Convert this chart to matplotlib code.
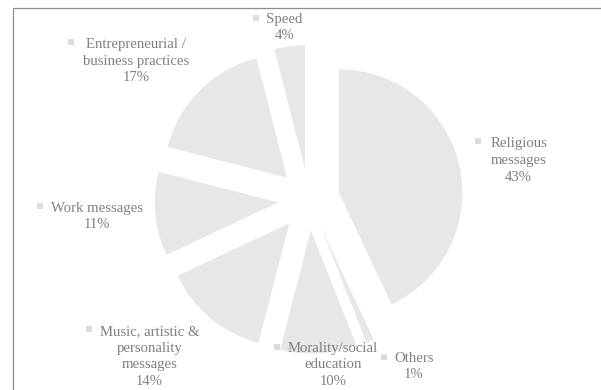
import matplotlib.pyplot as plt

# data
labels = ['Religious\nmessages', 'Others', 'Morality/social\neducation',
          'Music, artistic &\npersonality\nmessages', 'Work messages',
          'Entrepreneurial /\nbusiness practices', 'Speed']
values = [43, 1, 10, 14, 11, 17, 4]

# label centres (pixels, from top-left) and marker positions
label_pos = [(518.6, 160.5), (414, 366.5), (333, 365), (149.5, 356.5),
             (96.6, 216.5), (136, 61), (284.4, 27.5)]
marker_pos = [(478.3, 141), (384, 357.3), (276.7, 346.7), (88.9, 329),
              (39.5, 205.7), (71.3, 42.3), (255.7, 18.3)]

W, H = 601, 390
fig = plt.figure(figsize=(W / 100, H / 100), dpi=100)
ax = fig.add_axes([0, 0, 1, 1])

R = 123.4
ax.pie(values, radius=R, center=(308.9, H - 199.5), startangle=90,
       counterclock=False, explode=[0.25 * R] * len(values),
       colors=['#e7e7e7'] * len(values), wedgeprops=dict(linewidth=0))

for lab, v, (x, y), (mx, my) in zip(labels, values, label_pos, marker_pos):
    ax.text(x, H - y, f'{lab}\n{v}%', ha='center', va='center',
            fontsize=10.6, family='Liberation Serif', color='#808080',
            linespacing=1.38)
    ax.plot(mx, H - my, 's', ms=4.8, color='#dcdcdc', mew=0)

# chart border (cropped)
ax.plot([12.6, 12.6], [0, H - 8.3], color='#8c8c8c', lw=0.9, solid_capstyle='butt')
ax.plot([12.6, W], [H - 8.3, H - 8.3], color='#8c8c8c', lw=0.9, solid_capstyle='butt')

ax.set_xlim(0, W)
ax.set_ylim(0, H)
ax.set_aspect('auto')
ax.axis('off')

fig.savefig('out.png', dpi=100)
